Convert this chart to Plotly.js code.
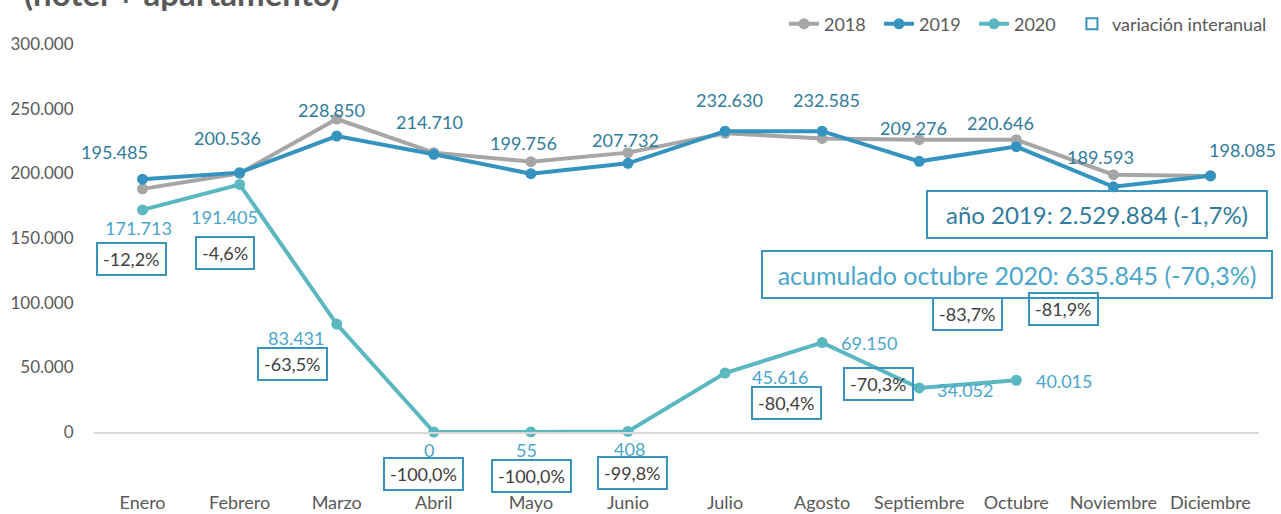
<!DOCTYPE html>
<html>
<head>
<meta charset="utf-8">
<script src="https://cdn.plot.ly/plotly-3.0.1.min.js"></script>
<style>html,body{margin:0;padding:0;background:#fff;}#chart{width:1281px;height:514px;}</style>
</head>
<body>
<div id="chart"></div>
<script>
const months = ["Enero","Febrero","Marzo","Abril","Mayo","Junio","Julio","Agosto","Septiembre","Octubre","Noviembre","Diciembre"];
const v2018 = [188000, 200000, 242000, 216000, 209000, 216000, 231000, 227000, 226000, 226000, 199000, 198000];
const v2019 = [195485, 200536, 228850, 214710, 199756, 207732, 232630, 232585, 209276, 220646, 189593, 198085];
const v2020 = [171713, 191405, 83431, 0, 55, 408, 45616, 69150, 34052, 40015];
const variacion = ["-12,2%","-4,6%","-63,5%","-100,0%","-100,0%","-99,8%","-80,4%","-70,3%","-83,7%","-81,9%"];
const tickVals = [0, 50000, 100000, 150000, 200000, 250000, 300000];
const tickText = ["0","50.000","100.000","150.000","200.000","250.000","300.000"];
const totalText2019 = "año 2019: 2.529.884 (-1,7%)";
const totalText2020 = "acumulado octubre 2020: 635.845 (-70,3%)";
const titleText = "(hotel + apartamento)";

const fmt = v => String(v).replace(/\B(?=(\d{3})+(?!\d))/g, ".");

const C18 = "#A6A6A6", C19 = "#3593BF", C20 = "#5BB8C0";
const L19 = "#2F7B9C", L20 = "#4AA6CC", BOX = "#3A93BC";
const FONT = "Lato";

// label offsets (pixels) relative to points
const off19 = [[-28,-27],[-12,-35],[-5,-26],[-4,-32],[-7,-31],[-2,-23],[4,-31],[4,-31],[-6,-33],[-16,-24],[-13,-30],[32,-26]];
const off20 = [[-4,18],[-15,33],[-41,14],[-5,18],[-4,18],[2,18],[55,4],[47,0],[46,2],[48,1]];
const offVar = [[-11,49],[-15,69],[-44,40],[-10,42],[1,44],[5,42],[61,30],[56,41],[48,-74],[47,-71]];

const traces = [
  {x: months, y: v2018, name: "2018", type: "scatter", mode: "lines+markers",
   line: {color: C18, width: 4}, marker: {color: C18, size: 11}, cliponaxis: false},
  {x: months, y: v2019, name: "2019", type: "scatter", mode: "lines+markers",
   line: {color: C19, width: 4}, marker: {color: C19, size: 11}, cliponaxis: false},
  {x: months.slice(0, v2020.length), y: v2020, name: "2020", type: "scatter", mode: "lines+markers",
   line: {color: C20, width: 4}, marker: {color: C20, size: 11}, cliponaxis: false},
  {x: [null], y: [null], name: "variación interanual", type: "scatter", mode: "markers", legend: "legend2",
   marker: {symbol: "square-open", color: BOX, size: 11, line: {width: 2}}}
];

const annotations = [];
v2019.forEach((v, i) => annotations.push({
  x: months[i], y: v, xref: "x", yref: "y", text: fmt(v), showarrow: false,
  xanchor: "center", yanchor: "middle",
  xshift: off19[i][0], yshift: -off19[i][1], font: {family: FONT, size: 18, color: L19}
}));
v2020.forEach((v, i) => annotations.push({
  x: months[i], y: v, xref: "x", yref: "y", text: fmt(v), showarrow: false,
  xanchor: "center", yanchor: "middle",
  xshift: off20[i][0], yshift: -off20[i][1], font: {family: FONT, size: 18, color: L20}
}));
variacion.forEach((t, i) => annotations.push({
  x: months[i], y: v2020[i], xref: "x", yref: "y", text: t, showarrow: false,
  xanchor: "center", yanchor: "middle",
  xshift: offVar[i][0], yshift: -offVar[i][1], font: {family: FONT, size: 18, color: "#404040"},
  bordercolor: BOX, borderwidth: 2, borderpad: 5, height: 20
}));
annotations.push({
  x: 0.861, y: 0.5606, xref: "paper", yref: "paper", xanchor: "center", yanchor: "middle",
  text: totalText2019, showarrow: false,
  font: {family: FONT, size: 24, color: L19}, bordercolor: BOX, borderwidth: 2, borderpad: 2,
  width: 334, height: 41
});
annotations.push({
  x: 0.7923, y: 0.406, xref: "paper", yref: "paper", xanchor: "center", yanchor: "middle",
  text: totalText2020, showarrow: false,
  font: {family: FONT, size: 25, color: L20}, bordercolor: BOX, borderwidth: 2, borderpad: 2,
  width: 504, height: 41
});
annotations.push({
  x: -0.0618, y: 1.132, xref: "paper", yref: "paper", xanchor: "left", yanchor: "middle",
  text: "<b>" + titleText + "</b>", showarrow: false,
  font: {family: FONT, size: 33, color: "#595959"}
});

const legendFont = {family: FONT, size: 18, color: "#595959"};
const layout = {
  width: 1281, height: 514,
  margin: {l: 94, r: 22, t: 44, b: 82, autoexpand: false},
  paper_bgcolor: "#fff", plot_bgcolor: "#fff",
  font: {family: FONT, color: "#595959"},
  showlegend: true,
  legend: {orientation: "h", xref: "container", yref: "container", x: 0.612, xanchor: "left",
           y: 0.953, yanchor: "middle", font: legendFont, bgcolor: "rgba(0,0,0,0)",
           itemwidth: 30, tracegroupgap: 0, entrywidth: 50},
  legend2: {orientation: "h", xref: "container", yref: "container", x: 0.8368, xanchor: "left",
           y: 0.953, yanchor: "middle", font: legendFont, bgcolor: "rgba(0,0,0,0)",
           itemwidth: 30, tracegroupgap: 0},
  xaxis: {type: "category", range: [-0.5, 11.5], showgrid: false, zeroline: false,
          showline: true, linecolor: "#D9D9D9", linewidth: 2,
          ticks: "outside", ticklen: 53, tickcolor: "rgba(0,0,0,0)",
          tickfont: {family: FONT, size: 18, color: "#595959"}, fixedrange: true},
  yaxis: {range: [0, 300000], tickvals: tickVals, ticktext: tickText, showgrid: false,
          zeroline: false, showline: false, ticks: "outside", ticklen: 16, tickcolor: "rgba(0,0,0,0)",
          tickfont: {family: FONT, size: 17, color: "#595959"}, fixedrange: true},
  annotations: annotations
};

Plotly.newPlot("chart", traces, layout, {displayModeBar: false, staticPlot: true});
</script>
</body>
</html>
